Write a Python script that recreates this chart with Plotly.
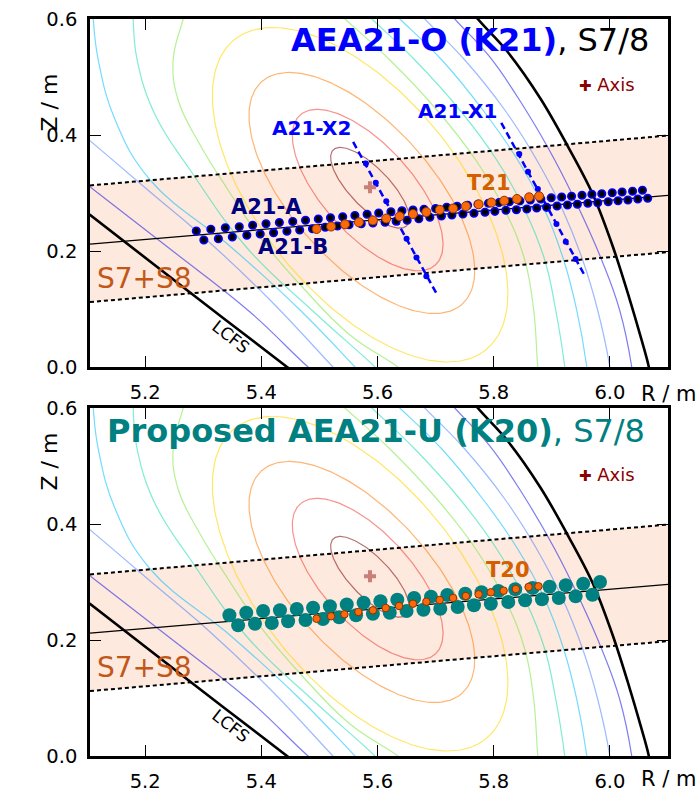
import numpy as np
import plotly.graph_objects as go

# ---------------- data (R / m, Z / m) ----------------
# AEA21-O (K21): two rows of channels
row_a_R = [5.288, 5.313, 5.338, 5.362, 5.385, 5.408, 5.431, 5.454, 5.476, 5.498,
           5.519, 5.540, 5.561, 5.582, 5.602, 5.623, 5.642, 5.661, 5.680, 5.700,
           5.719, 5.737, 5.755, 5.773, 5.791, 5.809, 5.827, 5.845, 5.863, 5.881,
           5.899, 5.917, 5.934, 5.952, 5.969, 5.986, 6.004, 6.021, 6.039, 6.056]
row_a_Z = [0.2345, 0.2374, 0.2400, 0.2419, 0.2443, 0.2469, 0.2491, 0.2509, 0.2531, 0.2552,
           0.2572, 0.2591, 0.2612, 0.2633, 0.2655, 0.2678, 0.2695, 0.2707, 0.2719, 0.2733,
           0.2755, 0.2772, 0.2788, 0.2805, 0.2822, 0.2834, 0.2848, 0.2864, 0.2879, 0.2897,
           0.2919, 0.2931, 0.2943, 0.2960, 0.2978, 0.2988, 0.3005, 0.3017, 0.3029, 0.3047]
row_b_R = [5.301, 5.326, 5.350, 5.375, 5.398, 5.421, 5.444, 5.466, 5.488, 5.510,
           5.531, 5.551, 5.572, 5.592, 5.613, 5.632, 5.651, 5.671, 5.690, 5.710,
           5.728, 5.747, 5.766, 5.785, 5.802, 5.821, 5.839, 5.857, 5.874, 5.891,
           5.909, 5.927, 5.944, 5.962, 5.979, 5.997, 6.014, 6.031, 6.048, 6.065]
row_b_Z = [0.2190, 0.2212, 0.2241, 0.2271, 0.2293, 0.2316, 0.2340, 0.2362, 0.2384, 0.2409,
           0.2431, 0.2453, 0.2471, 0.2483, 0.2495, 0.2514, 0.2531, 0.2557, 0.2581, 0.2603,
           0.2621, 0.2638, 0.2650, 0.2667, 0.2684, 0.2702, 0.2712, 0.2724, 0.2741, 0.2753,
           0.2776, 0.2793, 0.2805, 0.2822, 0.2833, 0.2850, 0.2867, 0.2879, 0.2897, 0.2909]

# crossing arrays A21-X1 / A21-X2
x2_R = [5.580, 5.597, 5.615, 5.632, 5.650, 5.667, 5.684]
x2_Z = [0.3509, 0.3176, 0.2857, 0.2534, 0.2212, 0.1888, 0.1564]
x2_line_R = [5.558, 5.703]
x2_line_Z = [0.388, 0.124]
x1_R = [5.844, 5.859, 5.876, 5.892, 5.908, 5.924, 5.941]
x1_Z = [0.3672, 0.3367, 0.3069, 0.2764, 0.2466, 0.2160, 0.1862]
x1_line_R = [5.813, 5.957]
x1_line_Z = [0.421, 0.157]

# Thomson scattering volumes T21 / T20
t21_R = [5.495, 5.520, 5.544, 5.568, 5.592, 5.615, 5.638, 5.661, 5.684,
         5.707, 5.730, 5.752, 5.774, 5.796, 5.818, 5.840, 5.861, 5.878]
t21_Z = [0.2379, 0.2422, 0.2460, 0.2495, 0.2526, 0.2560, 0.2598, 0.2638, 0.2672,
         0.2710, 0.2733, 0.2772, 0.2805, 0.2836, 0.2867, 0.2897, 0.2926, 0.2945]
t20_R = [5.495, 5.520, 5.543, 5.567, 5.592, 5.614, 5.637, 5.661, 5.684,
         5.707, 5.730, 5.752, 5.774, 5.795, 5.817, 5.838, 5.860, 5.877]
t20_Z = [0.2367, 0.2409, 0.2443, 0.2483, 0.2512, 0.2552, 0.2586, 0.2626, 0.2660,
         0.2690, 0.2724, 0.2759, 0.2788, 0.2822, 0.2850, 0.2879, 0.2914, 0.2926]

# Proposed AEA21-U (K20): two rows of channels
u_up_R = [5.345, 5.374, 5.403, 5.432, 5.461, 5.489, 5.518, 5.547, 5.576, 5.605, 5.634, 5.663,
          5.692, 5.720, 5.751, 5.779, 5.808, 5.837, 5.867, 5.896, 5.924, 5.954, 5.983]
u_up_Z = [0.2426, 0.2471, 0.2500, 0.2512, 0.2534, 0.2557, 0.2581, 0.2612, 0.2643, 0.2667, 0.2695, 0.2724,
          0.2747, 0.2776, 0.2798, 0.2822, 0.2845, 0.2874, 0.2897, 0.2919, 0.2943, 0.2971, 0.3000]
u_lo_R = [5.360, 5.389, 5.418, 5.446, 5.476, 5.506, 5.534, 5.563, 5.592, 5.621, 5.650,
          5.679, 5.708, 5.738, 5.766, 5.795, 5.825, 5.854, 5.883, 5.912, 5.941, 5.970]
u_lo_Z = [0.2253, 0.2281, 0.2293, 0.2322, 0.2345, 0.2362, 0.2391, 0.2426, 0.2453, 0.2471, 0.2500,
          0.2522, 0.2540, 0.2569, 0.2598, 0.2626, 0.2655, 0.2684, 0.2702, 0.2724, 0.2753, 0.2781]

# magnetic axis
axis_R = [5.587]
axis_Z = [0.310]

# S7+S8 observation band edges and central sight line (at R = 5.105 and 6.1)
edge_R = [5.105, 6.1]
band_top_Z = [0.313, 0.399]
band_bot_Z = [0.112, 0.198]
sight_Z = [0.212, 0.296]

# last closed flux surface: inboard-lower and outboard pieces
lcfs_in_R = [5.080, 5.1054, 5.2739, 5.4442, 5.470]
lcfs_in_Z = [0.281, 0.2621, 0.1310, 0.0000, -0.020]
lcfs_out_R = [5.745, 5.7726, 5.8241, 5.8809, 5.9273, 5.9703, 6.0047, 6.0339, 6.0545, 6.0666, 6.072]
lcfs_out_Z = [0.636, 0.6000, 0.5431, 0.4621, 0.3810, 0.2983, 0.2086, 0.1172, 0.0466, 0.0017, -0.031]

# closed inner flux surfaces: centre R, centre Z, half-axes, tilt (deg)
surf_R0 = [5.587, 5.583, 5.573, 5.570]
surf_Z0 = [0.309, 0.305, 0.300, 0.297]
surf_a = [0.091, 0.174, 0.258, 0.344]
surf_b = [0.034, 0.077, 0.120, 0.172]
surf_tilt = [-46, -48, -48, -51]
surf_colors = ["rgba(128,0,0,0.55)", "rgba(240,40,30,0.5)",
               "rgba(255,120,0,0.55)", "rgba(255,215,0,0.6)"]

# outer flux surfaces (open in this window), inner to outer: inboard and outboard pieces
outer_colors = ["rgba(120,230,60,0.55)", "rgba(0,220,170,0.5)", "rgba(0,190,255,0.55)",
                "rgba(60,120,255,0.5)", "rgba(20,20,230,0.55)"]
outer_in_R = [
    [5.2739, 5.2653, 5.2481, 5.2567, 5.2946, 5.3427, 5.4012, 5.4751, 5.5525, 5.6350, 5.6728],
    [5.1794, 5.1794, 5.1862, 5.2172, 5.2774, 5.3754, 5.4923, 5.5955, 5.6247],
    [5.1089, 5.1106, 5.1192, 5.1484, 5.2086, 5.3496, 5.4665, 5.5611, 5.5903],
    [5.0539, 5.1054, 5.2086, 5.3118, 5.4149, 5.5232, 5.5525],
    [5.0539, 5.1054, 5.2430, 5.3805, 5.4785, 5.5181],
]
outer_in_Z = [
    [0.6362, 0.6000, 0.5293, 0.4603, 0.3828, 0.3052, 0.2190, 0.1328, 0.0552, 0.0000, -0.031],
    [0.6362, 0.6000, 0.5293, 0.4345, 0.3397, 0.2052, 0.0931, 0.0000, -0.031],
    [0.6362, 0.6000, 0.5293, 0.4259, 0.3224, 0.2052, 0.0983, 0.0000, -0.031],
    [0.4328, 0.3897, 0.3017, 0.2138, 0.1155, 0.0000, -0.031],
    [0.3500, 0.3103, 0.2034, 0.0948, 0.0017, -0.031],
]
outer_out_R = [
    [5.5043, 5.5439, 5.6213, 5.7021, 5.7691, 5.8190, 5.8534, 5.8688, 5.8757, 5.8792],
    [5.5525, 5.5903, 5.6642, 5.7416, 5.8052, 5.8534, 5.8878, 5.9067, 5.9221, 5.9256],
    [5.6006, 5.6384, 5.7107, 5.7812, 5.8413, 5.8878, 5.9204, 5.9428, 5.9600, 5.9634],
    [5.6470, 5.6814, 5.7502, 5.8190, 5.8740, 5.9187, 5.9531, 5.9789, 5.9995, 6.0030],
    [5.7021, 5.7330, 5.7932, 5.8551, 5.9050, 5.9479, 5.9858, 6.0167, 6.0373, 6.0408],
]
outer_out_Z = [
    [0.6362, 0.6000, 0.5293, 0.4431, 0.3569, 0.2707, 0.1845, 0.0983, 0.0017, -0.031],
    [0.6362, 0.6000, 0.5293, 0.4431, 0.3569, 0.2707, 0.1845, 0.0983, 0.0017, -0.031],
    [0.6362, 0.6000, 0.5293, 0.4431, 0.3569, 0.2707, 0.1845, 0.0983, 0.0017, -0.031],
    [0.6362, 0.6000, 0.5293, 0.4431, 0.3569, 0.2707, 0.1845, 0.0983, 0.0017, -0.031],
    [0.6362, 0.6000, 0.5345, 0.4431, 0.3569, 0.2707, 0.1845, 0.0983, 0.0017, -0.031],
]

x_ticks = [5.2, 5.4, 5.6, 5.8, 6.0]
x_ticktext = ["5.2", "5.4", "5.6", "5.8", "6.0"]
z_ticks = [0.0, 0.2, 0.4, 0.6]
z_ticktext = ["0.0", "0.2", "0.4", "0.6"]

FONT = "DejaVu Sans"
BLUE = "#0000ff"
NAVY = "#000080"
TEAL = "#008080"
T_ORANGE = "#d45f00"
BAND_TXT = "#c2571a"

fig = go.Figure()


def ellipse(r0, z0, a, b, tilt):
    t = np.linspace(0, 2 * np.pi, 241)
    th = np.deg2rad(tilt)
    u, v = a * np.cos(t), b * np.sin(t)
    return r0 + u * np.cos(th) - v * np.sin(th), z0 + u * np.sin(th) + v * np.cos(th)


def background(xa, ya):
    # observation band
    fig.add_trace(go.Scatter(
        x=edge_R + edge_R[::-1], y=band_top_Z + band_bot_Z[::-1],
        fill="toself", fillcolor="rgba(250,200,170,0.40)", line=dict(width=0),
        mode="lines", hoverinfo="skip", showlegend=False, xaxis=xa, yaxis=ya))
    # flux surfaces
    for k in range(len(surf_a)):
        r, z = ellipse(surf_R0[k], surf_Z0[k], surf_a[k], surf_b[k], surf_tilt[k])
        fig.add_trace(go.Scatter(x=r, y=z, mode="lines",
                                 line=dict(color=surf_colors[k], width=1.2),
                                 showlegend=False, xaxis=xa, yaxis=ya))
    for k in range(len(outer_colors)):
        for rr, zz in ((outer_in_R[k], outer_in_Z[k]), (outer_out_R[k], outer_out_Z[k])):
            fig.add_trace(go.Scatter(x=rr, y=zz, mode="lines",
                                     line=dict(color=outer_colors[k], width=1.2,
                                               shape="spline", smoothing=1.2),
                                     showlegend=False, xaxis=xa, yaxis=ya))
    for rr, zz in ((lcfs_in_R, lcfs_in_Z), (lcfs_out_R, lcfs_out_Z)):
        fig.add_trace(go.Scatter(x=rr, y=zz, mode="lines",
                                 line=dict(color="black", width=2.6, shape="spline"),
                                 showlegend=False, xaxis=xa, yaxis=ya))
    # band edges and sight line
    for zz in (band_top_Z, band_bot_Z):
        fig.add_trace(go.Scatter(x=edge_R, y=zz, mode="lines",
                                 line=dict(color="black", width=2, dash="4px,3px"),
                                 showlegend=False, xaxis=xa, yaxis=ya))
    fig.add_trace(go.Scatter(x=edge_R, y=sight_Z, mode="lines",
                             line=dict(color="black", width=1.3),
                             showlegend=False, xaxis=xa, yaxis=ya))
    # magnetic axis
    fig.add_trace(go.Scatter(x=axis_R, y=axis_Z, mode="markers",
                             marker=dict(symbol="cross", size=10, color="rgba(139,0,0,0.45)"),
                             showlegend=False, xaxis=xa, yaxis=ya))


# ---------- top panel ----------
background("x", "y")
for lr, lz, pr, pz in ((x2_line_R, x2_line_Z, x2_R, x2_Z), (x1_line_R, x1_line_Z, x1_R, x1_Z)):
    fig.add_trace(go.Scatter(x=lr, y=lz, mode="lines",
                             line=dict(color=BLUE, width=2.5, dash="7px,4px"), showlegend=False))
    fig.add_trace(go.Scatter(x=pr, y=pz, mode="markers",
                             marker=dict(color=BLUE, size=6), showlegend=False))
for rr, zz in ((row_a_R, row_a_Z), (row_b_R, row_b_Z)):
    fig.add_trace(go.Scatter(x=rr, y=zz, mode="markers",
                             marker=dict(color="black", size=7.5, line=dict(color=BLUE, width=1.6)),
                             showlegend=False))
fig.add_trace(go.Scatter(x=t21_R, y=t21_Z, mode="markers",
                         marker=dict(color="#fa6a0a", size=9, line=dict(color="#8a3300", width=1)),
                         showlegend=False))

# ---------- bottom panel ----------
background("x2", "y2")
for rr, zz in ((u_up_R, u_up_Z), (u_lo_R, u_lo_Z)):
    fig.add_trace(go.Scatter(x=rr, y=zz, mode="markers", marker=dict(color=TEAL, size=14),
                             showlegend=False, xaxis="x2", yaxis="y2"))
fig.add_trace(go.Scatter(x=t20_R, y=t20_Z, mode="markers",
                         marker=dict(color="#fa6a0a", size=7.5, line=dict(color="#8a3300", width=1)),
                         showlegend=False, xaxis="x2", yaxis="y2"))

W, H = 697, 792
xdom = [90 / W, 668 / W]
axis_common = dict(showline=True, linewidth=2.5, linecolor="black", mirror="ticks",
                   ticks="inside", ticklen=11, tickwidth=1.2, tickcolor="black",
                   showgrid=False, zeroline=False, automargin=False,
                   tickfont=dict(family=FONT, size=19.5, color="black"))
xa = dict(axis_common, range=[5.105, 6.1], tickvals=x_ticks, ticktext=x_ticktext,
          domain=xdom, ticklabelstandoff=6)
ya = dict(axis_common, range=[0, 0.6], tickvals=z_ticks, ticktext=z_ticktext,
          ticklabelstandoff=6)
# short outward tick stubs on the left spines
ya_out = dict(range=[0, 0.6], tickvals=z_ticks, ticks="outside", ticklen=6, tickwidth=1.2,
              tickcolor="black", showticklabels=False, showline=False, showgrid=False,
              zeroline=False, side="left", automargin=False)

top_dom = [1 - 367 / H, 1 - 19 / H]
bot_dom = [1 - 756 / H, 1 - 408 / H]
fig.update_layout(
    template="none",
    width=W, height=H, margin=dict(l=0, r=0, t=0, b=0, autoexpand=False),
    plot_bgcolor="white", paper_bgcolor="white",
    xaxis=dict(xa, anchor="y"),
    yaxis=dict(ya, domain=top_dom, anchor="x"),
    xaxis2=dict(xa, anchor="y2"),
    yaxis2=dict(ya, domain=bot_dom, anchor="x2"),
    yaxis3=dict(ya_out, overlaying="y", anchor="x"),
    yaxis4=dict(ya_out, overlaying="y2", anchor="x2"),
    showlegend=False,
)


def note(text, x, y, size, color, xref="x", yref="y", bold=False, angle=0, **kw):
    fig.add_annotation(text=f"<b>{text}</b>" if bold else text, x=x, y=y, xref=xref, yref=yref,
                       showarrow=False, textangle=angle,
                       font=dict(family=FONT, size=size, color=color), **kw)


for ax, ay in (("x", "y"), ("x2", "y2")):
    note("S7+S8", 5.199, 0.153, 28, BAND_TXT, ax, ay)
    note("LCFS", 5.348, 0.052, 17, "black", ax, ay, angle=38)

# panel labels
note("A21-A", 5.408, 0.276, 21, NAVY, bold=True)
note("A21-B", 5.4545, 0.207, 21, NAVY, bold=True)
note("A21-X2", 5.486, 0.412, 20, BLUE, bold=True)
note("A21-X1", 5.738, 0.441, 20, BLUE, bold=True)
note("T21", 5.791, 0.318, 21, T_ORANGE, bold=True)
note("T20", 5.825, 0.320, 21, T_ORANGE, "x2", "y2", bold=True)

# titles
note(f"<span style='color:{BLUE}'><b>AEA21-O (K21)</b></span>, S7/8", 651 / W, 1 - 40 / H, 32,
     "black", "paper", "paper", xanchor="right", yanchor="middle")
note("<b>Proposed AEA21-U (K20)</b>, S7/8", 647 / W, 1 - 431 / H, 32,
     TEAL, "paper", "paper", xanchor="right", yanchor="middle")

# key for the magnetic axis marker
for yy in (84, 474):
    note("<span style='font-size:15px'>✚</span> Axis", 577 / W, 1 - yy / H, 18, "#8b0000",
         "paper", "paper", xanchor="left", yanchor="middle")

# axis titles
for yy in (72, 462):
    note("Z / m", 34 / W, 1 - yy / H, 22, "black", "paper", "paper", angle=-90)
for yy in (394, 779):
    note("R / m", 639 / W, 1 - yy / H, 21, "black", "paper", "paper",
         xanchor="left", yanchor="middle")

fig.write_html("out.html")
